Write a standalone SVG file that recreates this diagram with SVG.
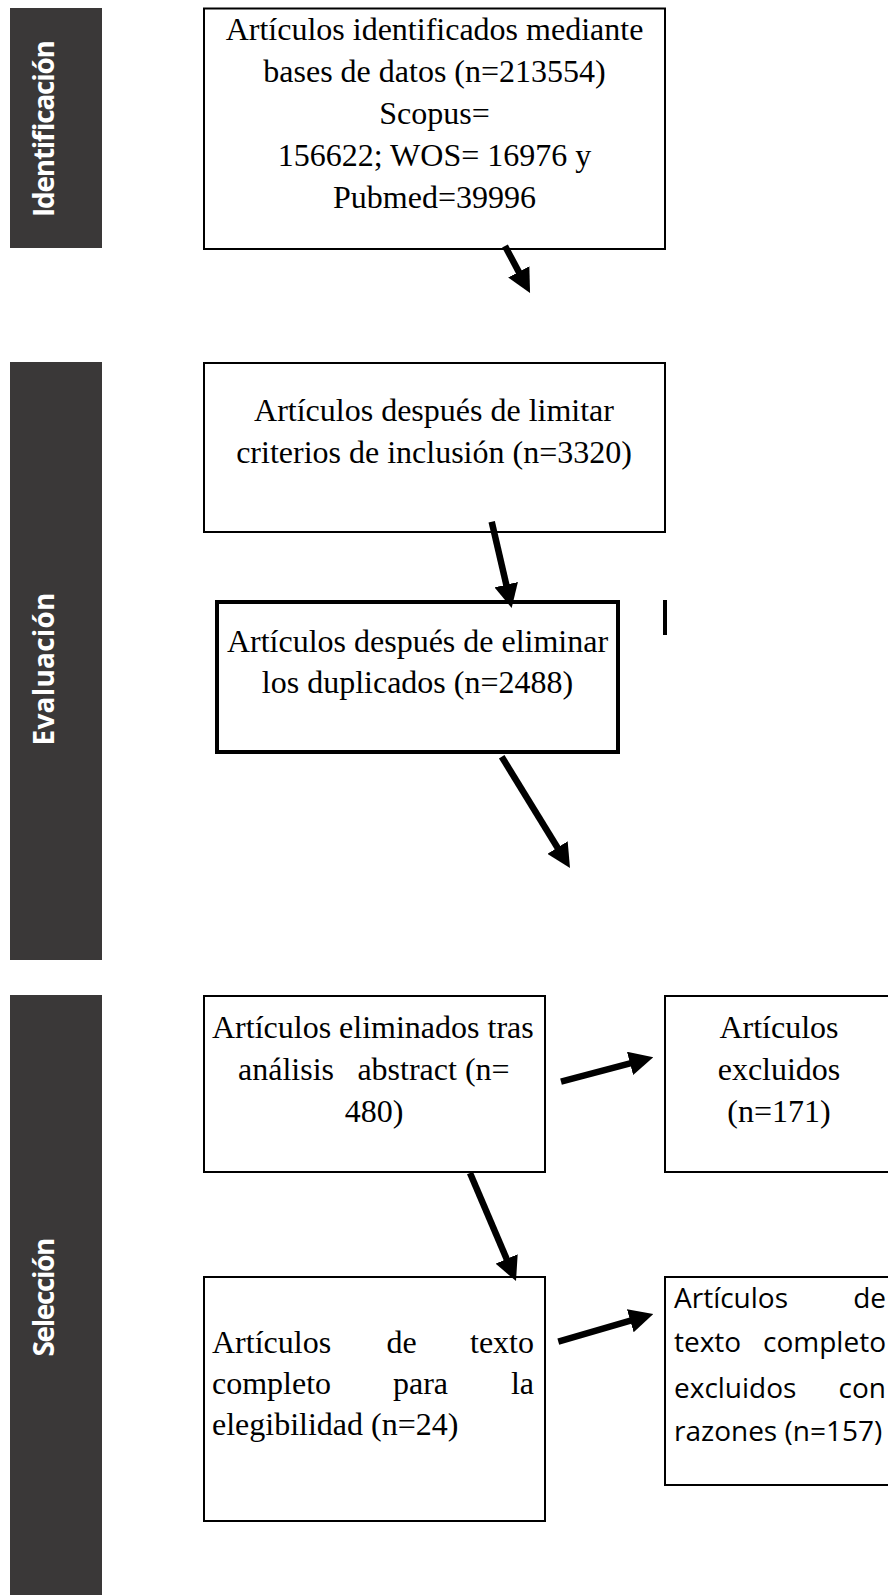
<svg xmlns="http://www.w3.org/2000/svg" width="888" height="1595" viewBox="0 0 888 1595">
<style>
.bg{fill:#ffffff}
.side{fill:#3a3838}
.slabel{font-family:"Open Sans","Liberation Sans",sans-serif;font-weight:bold;font-size:28px;fill:#ffffff;text-anchor:middle}
.box{fill:#ffffff;stroke:#000000;stroke-width:2}
.thick{stroke-width:4}
.t{font-family:"Liberation Serif","Times New Roman",serif;font-size:32px;fill:#000000}
.c{text-anchor:middle}
.e{text-anchor:end}
.s{font-family:"Open Sans","Liberation Sans",sans-serif;font-size:28px;fill:#000000}
.arr{stroke:#000000;stroke-width:6.5;fill:none;marker-end:url(#ah)}
</style>
<defs>
<marker id="ah" markerUnits="userSpaceOnUse" markerWidth="24" markerHeight="24" refX="2" refY="12" orient="auto">
<path d="M0,0 L24,12 L0,24 z" fill="#000000"/>
</marker>
</defs>
<rect class="bg" x="0" y="0" width="888" height="1595"/>

<g id="phase-identificacion">
<rect class="side" x="10" y="8" width="92" height="240"/>
<text class="slabel" transform="translate(53.5,128.5) rotate(-90)" textLength="177" lengthAdjust="spacing">Identificación</text>
</g>
<g id="phase-evaluacion">
<rect class="side" x="10" y="362" width="92" height="598"/>
<text class="slabel" transform="translate(53.5,669) rotate(-90)" textLength="153" lengthAdjust="spacing">Evaluación</text>
</g>
<g id="phase-seleccion">
<rect class="side" x="10" y="995" width="92" height="610"/>
<text class="slabel" transform="translate(53.5,1297) rotate(-90)" textLength="119" lengthAdjust="spacing">Selección</text>
</g>

<g id="n1">
<rect class="box" x="204" y="8.5" width="461" height="240.5"/>
<text class="t c" x="434.5" y="39.5">Artículos identificados mediante</text>
<text class="t c" x="434.5" y="81.7">bases de datos (n=213554)</text>
<text class="t c" x="434.5" y="124">Scopus=</text>
<text class="t c" x="434.5" y="166">156622; WOS= 16976 y</text>
<text class="t c" x="434.5" y="208">Pubmed=39996</text>
</g>

<g id="n2">
<rect class="box" x="204" y="363" width="461" height="169"/>
<text class="t c" x="434" y="421">Artículos después de limitar</text>
<text class="t c" x="434" y="463">criterios de inclusión (n=3320)</text>
</g>

<g id="n3">
<rect class="box thick" x="217" y="602" width="401" height="150"/>
<text class="t c" x="417.5" y="652">Artículos después de eliminar</text>
<text class="t c" x="417.5" y="693">los duplicados (n=2488)</text>
</g>

<g id="mark">
<line x1="665" y1="600" x2="665" y2="635" stroke="#000000" stroke-width="4"/>
</g>

<g id="n4">
<rect class="box" x="204" y="996" width="341" height="176"/>
<text class="t" x="212" y="1038">Artículos eliminados tras</text>
<text class="t" x="238" y="1080">análisis</text>
<text class="t e" x="509.6" y="1080">abstract (n=</text>
<text class="t c" x="374" y="1122">480)</text>
</g>

<g id="n5">
<rect class="box" x="665" y="996" width="230" height="176"/>
<text class="t c" x="779" y="1038">Artículos</text>
<text class="t c" x="779" y="1080">excluidos</text>
<text class="t c" x="779" y="1122">(n=171)</text>
</g>

<g id="n6">
<rect class="box" x="204" y="1277" width="341" height="244"/>
<text class="t" x="212" y="1353">Artículos</text>
<text class="t c" x="401.5" y="1353">de</text>
<text class="t e" x="534" y="1353">texto</text>
<text class="t" x="212" y="1394">completo</text>
<text class="t c" x="420.5" y="1394">para</text>
<text class="t e" x="534" y="1394">la</text>
<text class="t" x="212" y="1435">elegibilidad (n=24)</text>
</g>

<g id="n7">
<rect class="box" x="665" y="1277" width="230" height="208"/>
<text class="s" x="674" y="1308">Artículos</text>
<text class="s e" x="886" y="1308">de</text>
<text class="s" x="674" y="1352">texto</text>
<text class="s e" x="886" y="1352">completo</text>
<text class="s" x="674" y="1398">excluidos</text>
<text class="s e" x="886" y="1398">con</text>
<text class="s" x="674" y="1441">razones (n=157)</text>
</g>

<g id="connectors">
<line class="arr" x1="505" y1="246" x2="519.7" y2="273.6"/>
<line class="arr" x1="491.7" y1="521.7" x2="506.7" y2="586.6"/>
<line class="arr" x1="501.7" y1="756.7" x2="558.5" y2="849.3"/>
<line class="arr" x1="561" y1="1081.7" x2="632" y2="1062.9"/>
<line class="arr" x1="470" y1="1173" x2="507.4" y2="1260.8"/>
<line class="arr" x1="558.3" y1="1341.7" x2="632.2" y2="1320.2"/>
</g>
</svg>
